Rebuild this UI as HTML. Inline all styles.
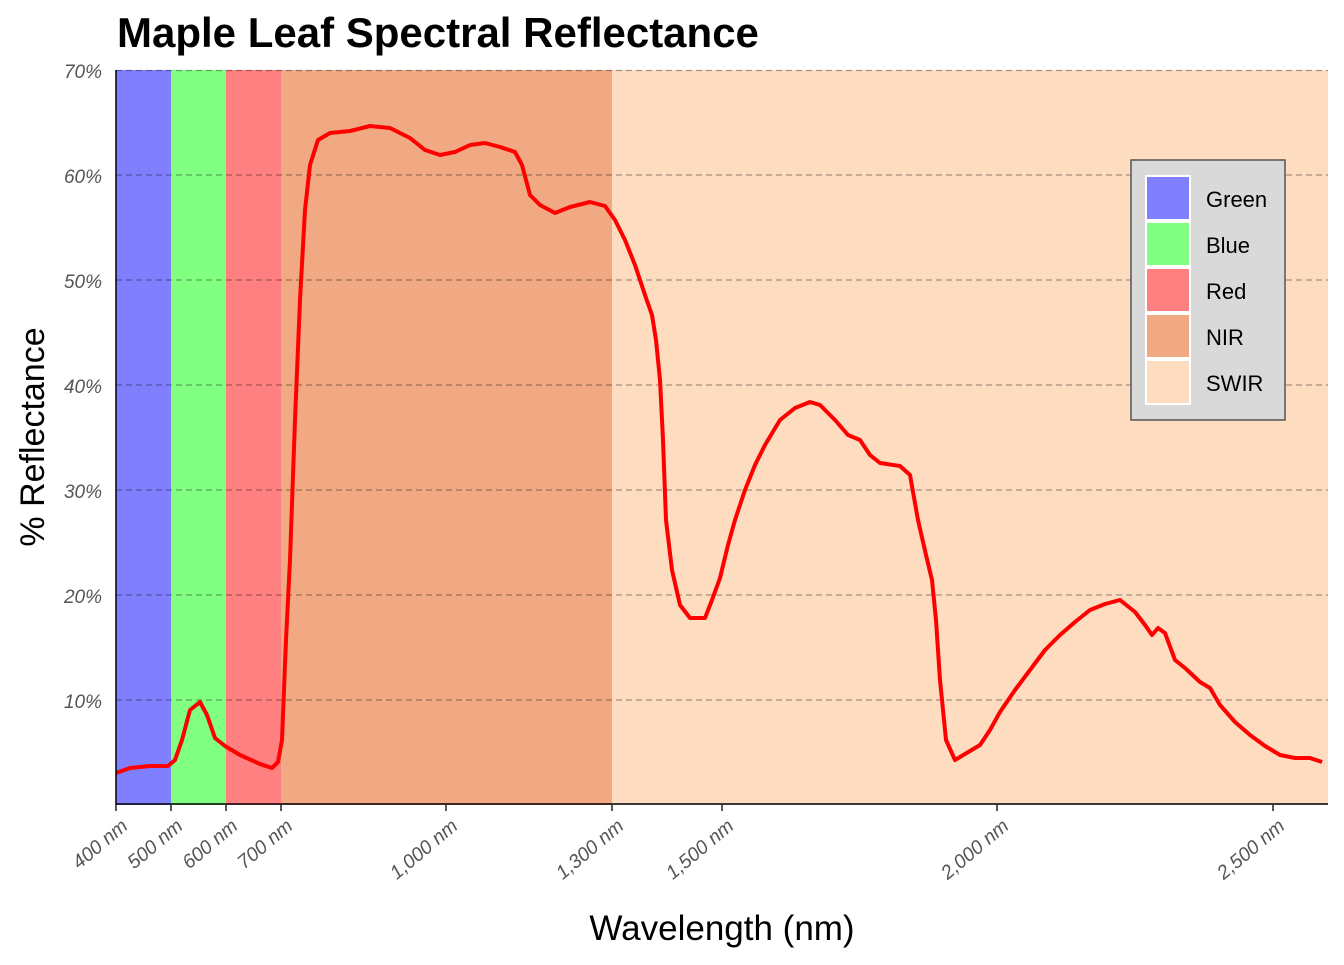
<!DOCTYPE html>
<html><head><style>body{margin:0;background:#fff}</style></head><body>
<svg width="1344" height="960" xmlns="http://www.w3.org/2000/svg" font-family="Liberation Sans, sans-serif">
<rect width="1344" height="960" fill="#fff"/>
<rect x="116" y="70" width="55" height="735" fill="#8080ff"/>
<rect x="171" y="70" width="55" height="735" fill="#80ff80"/>
<rect x="226" y="70" width="55" height="735" fill="#ff8080"/>
<rect x="281" y="70" width="331" height="735" fill="#f0a983"/>
<rect x="612" y="70" width="716" height="735" fill="#fedcc0"/>
<g stroke="#000" stroke-opacity="0.35" stroke-dasharray="6,4" stroke-width="1.3">
<line x1="116" x2="1328" y1="70.5" y2="70.5"/><line x1="116" x2="1328" y1="175" y2="175"/>
<line x1="116" x2="1328" y1="280" y2="280"/><line x1="116" x2="1328" y1="385" y2="385"/>
<line x1="116" x2="1328" y1="490" y2="490"/><line x1="116" x2="1328" y1="595" y2="595"/>
<line x1="116" x2="1328" y1="700" y2="700"/></g>
<polyline fill="none" stroke="#ff0000" stroke-width="4" stroke-linejoin="round" points="116,773 130,768 150,766 168,766 175,760 182,740 190,710 200,702 207,715 215,738 225,746 240,755 260,764 272,768 278,762 282,740 286,640 290,560 295,420 300,300 305,210 310,165 318,140 330,133 350,131 370,126 390,128 410,138 425,150 440,155 455,152 470,145 485,143 500,147 515,152 522,165 530,195 540,205 555,213 570,207 590,202 605,206 615,220 625,240 635,265 645,295 652,315 656,340 660,380 663,440 666,520 672,570 680,605 690,618 705,618 712,600 720,578 728,545 735,520 745,490 755,465 765,445 780,420 795,408 810,402 820,405 835,420 848,435 860,440 870,455 880,463 900,466 910,475 918,520 926,555 932,580 936,620 940,680 946,740 955,760 965,754 980,745 990,730 1000,712 1015,690 1030,670 1045,650 1060,635 1075,622 1090,610 1105,604 1120,600 1135,612 1145,625 1152,635 1158,628 1165,633 1175,660 1185,668 1200,682 1210,688 1220,705 1235,722 1250,735 1265,746 1280,755 1295,758 1310,758 1322,762"/>
<line x1="116" y1="70" x2="116" y2="805" stroke="#000" stroke-width="1.5"/>
<line x1="116" y1="804" x2="1328" y2="804" stroke="#000" stroke-width="1.5"/>
<g font-size="19" font-style="italic" fill="#555" text-anchor="end">
<text x="102" y="78">70%</text><text x="102" y="183">60%</text><text x="102" y="288">50%</text>
<text x="102" y="393">40%</text><text x="102" y="498">30%</text><text x="102" y="603">20%</text><text x="102" y="708">10%</text></g>
<g stroke="#000" stroke-width="1.3">
<line x1="116" x2="116" y1="805" y2="811"/><line x1="171" x2="171" y1="805" y2="811"/><line x1="226" x2="226" y1="805" y2="811"/><line x1="281" x2="281" y1="805" y2="811"/><line x1="446" x2="446" y1="805" y2="811"/><line x1="612" x2="612" y1="805" y2="811"/><line x1="722" x2="722" y1="805" y2="811"/><line x1="997" x2="997" y1="805" y2="811"/><line x1="1273" x2="1273" y1="805" y2="811"/></g>
<g font-size="19.5" font-style="italic" fill="#555" text-anchor="end">
<text transform="translate(129,828) rotate(-40)">400 nm</text>
<text transform="translate(184,828) rotate(-40)">500 nm</text>
<text transform="translate(239,828) rotate(-40)">600 nm</text>
<text transform="translate(294,828) rotate(-40)">700 nm</text>
<text transform="translate(459,828) rotate(-40)">1,000 nm</text>
<text transform="translate(625,828) rotate(-40)">1,300 nm</text>
<text transform="translate(735,828) rotate(-40)">1,500 nm</text>
<text transform="translate(1010,828) rotate(-40)">2,000 nm</text>
<text transform="translate(1286,828) rotate(-40)">2,500 nm</text></g>
<text x="722" y="940" font-size="35" text-anchor="middle">Wavelength (nm)</text>
<text transform="translate(44,437) rotate(-90)" font-size="34" text-anchor="middle">% Reflectance</text>
<text x="117" y="47" font-size="42" font-weight="bold">Maple Leaf Spectral Reflectance</text>
<rect x="1131" y="160" width="154" height="260" fill="#d9d9d9" stroke="#555" stroke-width="1.5"/>
<g stroke="#fff" stroke-width="2">
<rect x="1146" y="176" width="44" height="44" fill="#8080ff"/>
<rect x="1146" y="222" width="44" height="44" fill="#80ff80"/>
<rect x="1146" y="268" width="44" height="44" fill="#ff8080"/>
<rect x="1146" y="314" width="44" height="44" fill="#f0a983"/>
<rect x="1146" y="360" width="44" height="44" fill="#fedcc0"/></g>
<g font-size="22"><text x="1206" y="207">Green</text><text x="1206" y="253">Blue</text><text x="1206" y="299">Red</text><text x="1206" y="345">NIR</text><text x="1206" y="391">SWIR</text></g>
</svg></body></html>
